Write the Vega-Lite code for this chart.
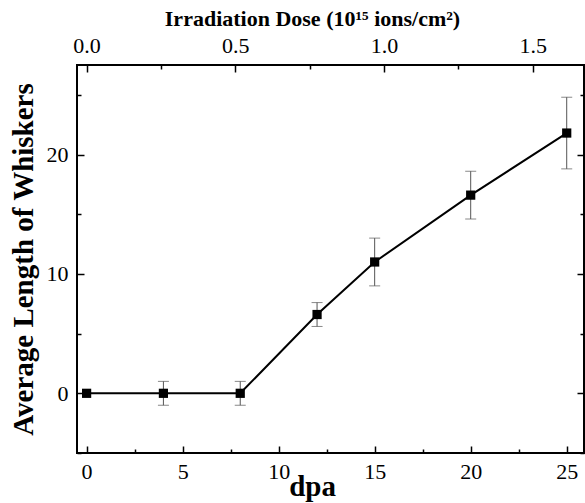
{
  "$schema": "https://vega.github.io/schema/vega-lite/v6.json",
  "width": 507,
  "height": 388,
  "autosize": {"type": "none"},
  "padding": {"left": 77, "top": 65, "right": 1, "bottom": 50},
  "background": "white",
  "config": {
    "view": {"stroke": "black", "strokeWidth": 2},
    "font": "Liberation Serif, serif",
    "axis": {"grid": false, "domain": false, "tickColor": "black", "labelColor": "black", "titleColor": "black", "labelFont": "Liberation Serif, serif", "titleFont": "Liberation Serif, serif", "tickWidth": 1.5}
  },
  "data": {
    "values": [
      {"dpa": 0, "dose": 0.0, "len": 0.0},
      {"dpa": 4, "dose": 0.258, "len": 0.0, "lo": -1.0, "hi": 1.0},
      {"dpa": 8, "dose": 0.517, "len": 0.0, "lo": -1.0, "hi": 1.0},
      {"dpa": 12, "dose": 0.775, "len": 6.6, "lo": 5.6, "hi": 7.6},
      {"dpa": 15, "dose": 0.969, "len": 11.0, "lo": 9.0, "hi": 13.0},
      {"dpa": 20, "dose": 1.291, "len": 16.6, "lo": 14.6, "hi": 18.6},
      {"dpa": 25, "dose": 1.614, "len": 21.8, "lo": 18.8, "hi": 24.8}
    ]
  },
  "resolve": {"scale": {"x": "independent", "y": "independent"}, "axis": {"x": "independent", "y": "independent"}},
  "layer": [
    {
      "mark": {"type": "point", "opacity": 0},
      "encoding": {
        "x": {"field": "dpa", "type": "quantitative", "scale": {"domain": [-0.5, 25.9], "nice": false, "zero": false},
          "axis": {"orient": "bottom", "values": [2.5, 7.5, 12.5, 17.5, 22.5], "labels": false, "tickSize": -4, "title": null}},
        "y": {"field": "len", "type": "quantitative", "scale": {"domain": [-5, 27.5], "nice": false, "zero": false},
          "axis": {"orient": "left", "values": [-5, 5, 15, 25], "labels": false, "tickSize": -4, "title": null}}
      }
    },
    {
      "mark": {"type": "point", "opacity": 0},
      "encoding": {
        "x": {"field": "dose", "type": "quantitative", "scale": {"domain": [-0.0323, 1.6724], "nice": false, "zero": false},
          "axis": {"orient": "top", "values": [0.25, 0.75, 1.25], "labels": false, "tickSize": -4, "title": null}},
        "y": {"field": "len", "type": "quantitative", "scale": {"domain": [-5, 27.5], "nice": false, "zero": false},
          "axis": {"orient": "right", "values": [-5, 5, 15, 25], "labels": false, "tickSize": -4, "title": null}}
      }
    },
    {
      "mark": {"type": "point", "opacity": 0},
      "encoding": {
        "x": {"field": "dose", "type": "quantitative", "scale": {"domain": [-0.0323, 1.6724], "nice": false, "zero": false},
          "axis": {"orient": "top", "values": [0, 0.5, 1.0, 1.5], "format": ".1f", "tickSize": -7, "labelPadding": 15, "labelFontSize": 22,
            "title": "Irradiation Dose (10¹⁵ ions/cm²)", "titleFontSize": 22, "titleFontWeight": "bold", "titlePadding": 4, "titleX": 235}},
        "y": {"field": "len", "type": "quantitative", "scale": {"domain": [-5, 27.5], "nice": false, "zero": false},
          "axis": {"orient": "right", "values": [0, 10, 20], "labels": false, "tickSize": -7, "title": null}}
      }
    },
    {
      "transform": [{"filter": "datum.lo != null"}],
      "mark": {"type": "errorbar", "ticks": {"size": 11, "color": "#555555"}, "rule": {"color": "#555555", "strokeWidth": 1}},
      "encoding": {
        "x": {"field": "dpa", "type": "quantitative", "scale": {"domain": [-0.5, 25.9], "nice": false, "zero": false}, "axis": null},
        "y": {"field": "lo", "type": "quantitative", "scale": {"domain": [-5, 27.5], "nice": false, "zero": false}, "axis": null},
        "y2": {"field": "hi"}
      }
    },
    {
      "mark": {"type": "line", "color": "black", "strokeWidth": 2},
      "encoding": {
        "x": {"field": "dpa", "type": "quantitative", "scale": {"domain": [-0.5, 25.9], "nice": false, "zero": false},
          "axis": {"orient": "bottom", "values": [0, 5, 10, 15, 20, 25], "tickSize": -7, "labelPadding": 15, "labelFontSize": 22,
            "title": "dpa", "titleFontSize": 29, "titleFontWeight": "bold", "titlePadding": -10, "titleX": 235}},
        "y": {"field": "len", "type": "quantitative", "scale": {"domain": [-5, 27.5], "nice": false, "zero": false},
          "axis": {"orient": "left", "values": [0, 10, 20], "tickSize": -7, "labelPadding": 16, "labelFontSize": 22,
            "title": "Average Length of Whiskers", "titleFontSize": 29, "titleFontWeight": "bold", "titlePadding": 8}}
      }
    },
    {
      "mark": {"type": "square", "color": "black", "opacity": 1, "filled": true, "size": 85},
      "encoding": {
        "x": {"field": "dpa", "type": "quantitative", "scale": {"domain": [-0.5, 25.9], "nice": false, "zero": false}, "axis": null},
        "y": {"field": "len", "type": "quantitative", "scale": {"domain": [-5, 27.5], "nice": false, "zero": false}, "axis": null}
      }
    }
  ]
}
